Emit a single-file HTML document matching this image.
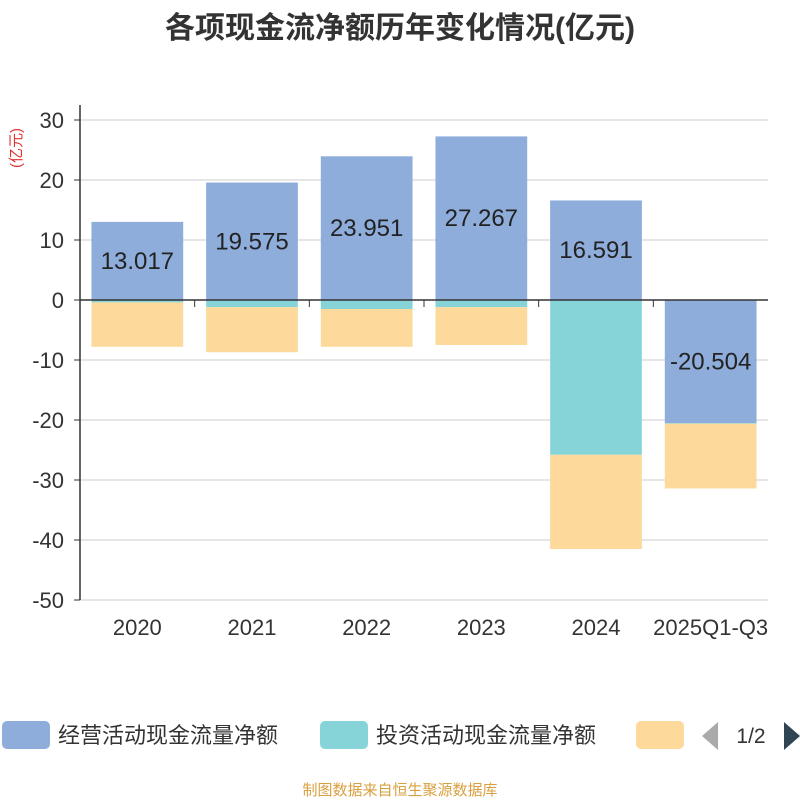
<!DOCTYPE html>
<html><head><meta charset="utf-8"><style>
body{margin:0;background:#fff;font-family:"Liberation Sans","Noto Sans CJK SC",sans-serif}
</style></head><body>
<svg id="c" width="800" height="800" xmlns="http://www.w3.org/2000/svg" style="font-family:'Liberation Sans','Noto Sans CJK SC',sans-serif">
<text x="400" y="38" text-anchor="middle" font-size="30" font-weight="bold" fill="#333">各项现金流净额历年变化情况(亿元)</text>
<text transform="translate(21,148) rotate(-90)" text-anchor="middle" font-size="15" fill="#e03030">(亿元)</text>
<g id="grid"></g><g id="bars"></g><g id="axes"></g>
<g>
<rect x="2" y="721" width="48" height="28" rx="5" fill="#8eaddb"/>
<text x="58" y="743" font-size="22" fill="#333">经营活动现金流量净额</text>
<rect x="320" y="721" width="48" height="28" rx="5" fill="#86d4d8"/>
<text x="376" y="743" font-size="22" fill="#333">投资活动现金流量净额</text>
<rect x="636" y="721" width="48" height="28" rx="5" fill="#fdd99b"/>
<polygon points="718,722 718,750 702,736" fill="#aaa"/>
<text x="751" y="743" text-anchor="middle" font-size="21" fill="#333">1/2</text>
<polygon points="784,722 784,750 800,736" fill="#2f4554"/>
</g>
<text x="400" y="795" text-anchor="middle" font-size="15" fill="#d9a040">制图数据来自恒生聚源数据库</text>
</svg>
<script>
const categories=["2020","2021","2022","2023","2024","2025Q1-Q3"];
const operating=[13.017,19.575,23.951,27.267,16.591,-20.504];
const investing=[-0.4,-1.2,-1.5,-1.2,-25.8,-0.1];
const financing=[-7.4,-7.5,-6.3,-6.3,-15.7,-10.8];
const yTicks=[30,20,10,0,-10,-20,-30,-40,-50];
const NS="http://www.w3.org/2000/svg";
const x0=80,x1=768,yTop=120,yBot=600,vMax=30,vMin=-50;
const y=v=>yTop+(vMax-v)/(vMax-vMin)*(yBot-yTop);
const bw=(x1-x0)/categories.length;
const mk=(t,a,p)=>{const e=document.createElementNS(NS,t);for(const k in a)e.setAttribute(k,a[k]);p.appendChild(e);return e;};
const grid=document.getElementById('grid'),bars=document.getElementById('bars'),axes=document.getElementById('axes');
yTicks.forEach(v=>{
 const l=mk('line',{x1:x0,x2:x1,y1:y(v),y2:y(v),stroke:'#ccc','stroke-width':1},grid);
 
 
 const t=mk('text',{x:x0-16,y:y(v)+8,'text-anchor':'end','font-size':22,fill:'#333'},axes);
 t.textContent=v;
 
 
 mk('line',{x1:x0-6,x2:x0,y1:y(v),y2:y(v),stroke:'#333'},axes);
});
const series=[[operating,'#8eaddb','operating'],[investing,'#86d4d8','investing'],[financing,'#fdd99b','financing']];
categories.forEach((c,i)=>{
 let pos=0,neg=0;const bx=x0+i*bw+bw*0.1,w=bw*0.8;
 series.forEach(([d,col,nm])=>{
  const v=d[i];let a,b;
  if(v>=0){a=pos;b=pos+v;pos=b;}else{a=neg;b=neg+v;neg=b;}
  const r=mk('rect',{x:bx,y:Math.min(y(a),y(b)),width:w,height:Math.abs(y(a)-y(b)),fill:col},bars);
  
  
 });
 const v=operating[i];
 const t=mk('text',{x:bx+w/2,y:y(v/2)+8,'text-anchor':'middle','font-size':24,fill:'#222'},bars);
 t.textContent=v.toFixed(3);
 
 
 const xl=mk('text',{x:x0+(i+0.5)*bw,y:635,'text-anchor':'middle','font-size':22,fill:'#333'},axes);
 xl.textContent=c;
 
 
 if(i>0)mk('line',{x1:x0+i*bw,x2:x0+i*bw,y1:y(0),y2:y(0)+7,stroke:'#333'},axes);
});
const ya=mk('line',{x1:x0,x2:x0,y1:yTop-15,y2:yBot,stroke:'#333','stroke-width':1.5},axes);


const xa=mk('line',{x1:x0,x2:x1,y1:y(0),y2:y(0),stroke:'#333','stroke-width':1.5},axes);


</script>
</body></html>
